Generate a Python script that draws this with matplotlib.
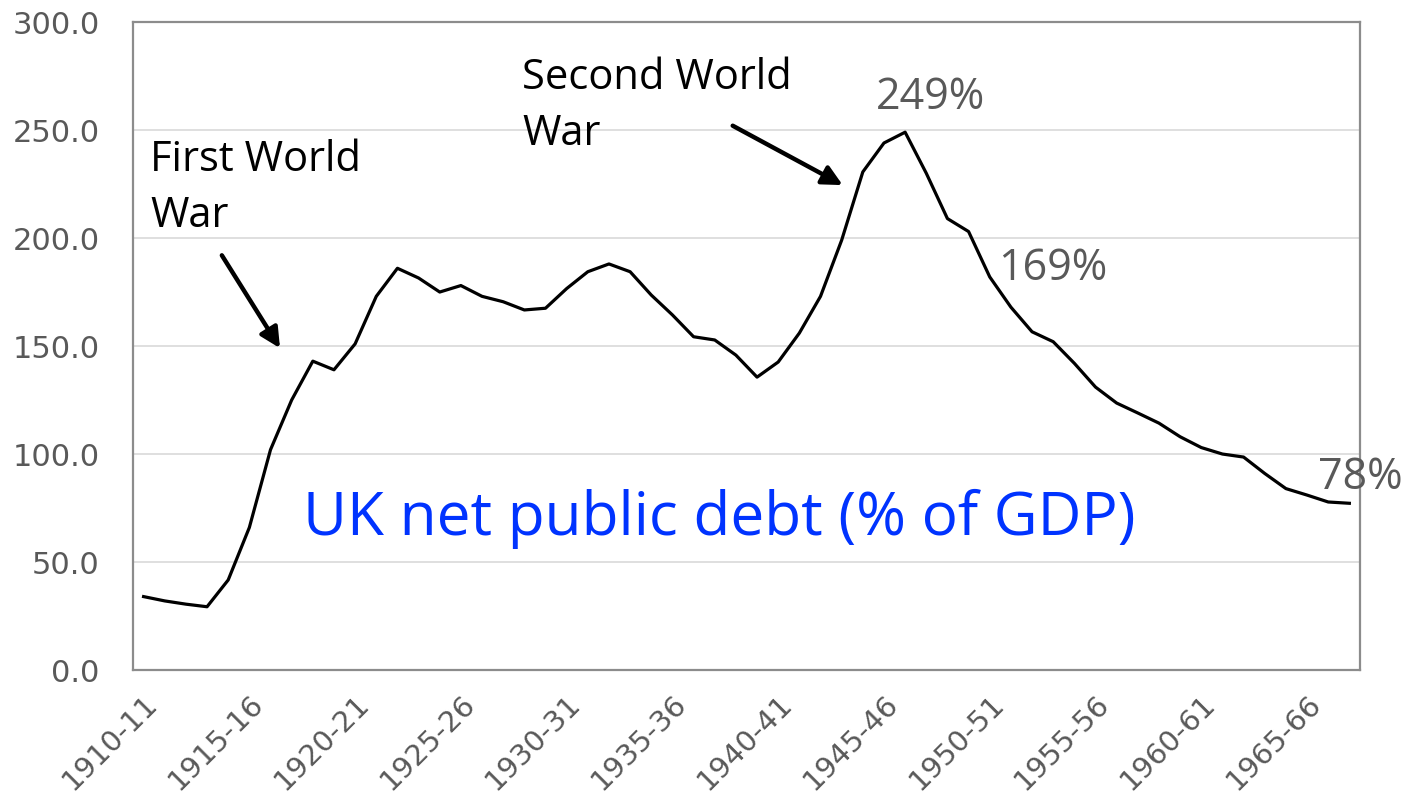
import matplotlib
matplotlib.use('Agg')
import matplotlib.pyplot as plt
import numpy as np

# fiscal years 1910-11 .. 1967-68
years = [f'{y}-{str(y + 1)[-2:]}' for y in range(1910, 1968)]
debt = [34, 32, 30.5, 29.3, 41.7, 66, 102, 125, 143, 139,
        151, 173, 186, 181.5, 175, 178, 173, 170.5, 166.7, 167.5,
        176.6, 184.4, 188, 184.4, 173.6, 164.4, 154.3, 152.8, 145.8, 135.6,
        142.6, 156, 173, 199, 230.6, 244, 249, 230, 209, 203,
        182, 168, 156.6, 152, 142, 131, 123.6, 119, 114.3, 108,
        103, 100, 98.6, 91, 84, 81, 77.8, 77.2]
yticks = [0, 50, 100, 150, 200, 250, 300]

tick_font = 'DejaVu Sans'
note_font = 'Open Sans'
grey = '#595959'

fig = plt.figure(figsize=(14.03, 8.01), dpi=100)
ax = fig.add_axes([0.0948, 0.1635, 0.8745, 0.809])

x = np.arange(len(years))
ax.plot(x, debt, color='black', lw=2.3, zorder=3)

ax.set_xlim(-0.5, len(years) - 0.5)
ax.set_ylim(0, 300)
ax.set_yticks(yticks)
ax.set_yticklabels([f'{v:.1f}' for v in yticks], fontsize=22, color=grey,
                   family=tick_font)
ax.set_xticks(x[::5])
ax.set_xticklabels(years[::5], rotation=45, ha='right', va='top',
                   rotation_mode='anchor', fontsize=21, color=grey,
                   family=tick_font)
ax.tick_params(axis='y', length=0, pad=24)
ax.tick_params(axis='x', length=0, pad=14)
ax.grid(axis='y', color='#d9d9d9', lw=1.2)
ax.set_axisbelow(True)
for s in ax.spines.values():
    s.set_color('#8c8c8c')
    s.set_linewidth(1.6)

# annotations
ax.text(0.3, 246, 'First World\nWar', fontsize=30, family=note_font,
        va='top', ha='left', linespacing=1.45)
ax.annotate('', xy=(6.45, 149), xytext=(3.7, 192),
            arrowprops=dict(arrowstyle='-|>', color='black', lw=3.2,
                            mutation_scale=30, shrinkA=0, shrinkB=0))
ax.text(17.9, 284, 'Second World\nWar', fontsize=30, family=note_font,
        va='top', ha='left', linespacing=1.45)
ax.annotate('', xy=(33.05, 224.5), xytext=(27.85, 252),
            arrowprops=dict(arrowstyle='-|>', color='black', lw=3.2,
                            mutation_scale=30, shrinkA=0, shrinkB=0))

ax.text(37.2, 265, f'{debt[36]:.0f}%', fontsize=31, color=grey,
        family=note_font, ha='center', va='center')
ax.text(43, 186, f'{debt[41] + 1:.0f}%', fontsize=31, color=grey,
        family=note_font, ha='center', va='center')
ax.text(57.5, 89, f'{debt[-1] + 0.8:.0f}%', fontsize=31, color=grey,
        family=note_font, ha='center', va='center', clip_on=False)

ax.text(27.2, 70, 'UK net public debt (% of GDP)', fontsize=43.5,
        color='#0033ff', family=note_font, ha='center', va='center')

fig.savefig('out.png', dpi=100)
